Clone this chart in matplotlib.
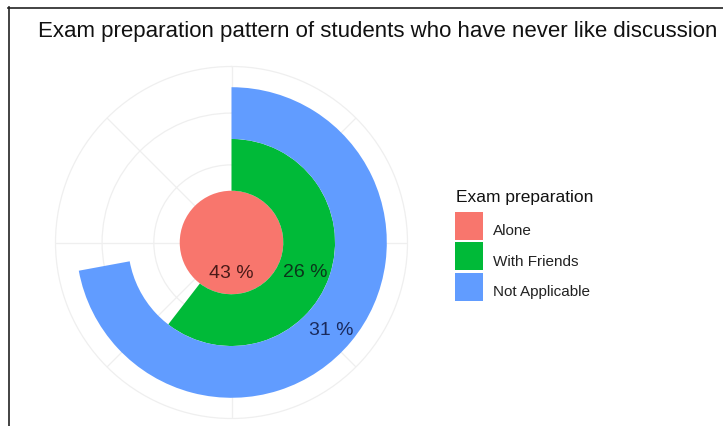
import numpy as np
import matplotlib
matplotlib.use("Agg")
import matplotlib.pyplot as plt
from matplotlib.patches import Rectangle
from matplotlib.lines import Line2D
from matplotlib.transforms import offset_copy

plt.rcParams['font.family'] = ['Liberation Sans', 'DejaVu Sans']

# Data
categories = ["Alone", "With Friends", "Not Applicable"]
percent = [43, 26, 31]
fill_colors = ["#F8766D", "#00BA38", "#619CFF"]
label_colors = ["#4a1a18", "#0a361a", "#1a2a5c"]
title = "Exam preparation pattern of students who have never like discussion"
legend_title = "Exam preparation"

W, H = 723, 427
fig = plt.figure(figsize=(W / 100, H / 100), dpi=100)
fig.patch.set_facecolor("white")


def fx(px):
    return px / W


def fy(py):
    return 1 - py / H


# Polar panel: centre (231.5, 243.5) px, outer radius 176 px
cx, cy, R = 231.5, 243.5, 176
ax = fig.add_axes([fx(cx - R), fy(cy + R), 2 * R / W, 2 * R / H], projection="polar")
ax.set_theta_zero_location("N")
ax.set_theta_direction(-1)

r_min, r_max = 0.5, 3.9
ax.set_ylim(r_min, r_max)

full = max(percent)
pos = np.arange(1, len(categories) + 1)
theta_end = [v / full * 2 * np.pi for v in percent]

ax.bar(0, height=np.ones(len(pos)), width=theta_end, bottom=pos - 0.5,
       align="edge", color=fill_colors, edgecolor="none", zorder=2)

# Value labels sit slightly below their anchor point
label_tr = offset_copy(ax.transData, fig=fig, x=0, y=-4, units="dots")
for p, v, c in zip(pos, percent, label_colors):
    ax.text(v / 2 / full * 2 * np.pi, p, f"{v} %", ha="center", va="center",
            fontsize=14, color=c, zorder=3, transform=label_tr)

grid_col = "#efefef"
ax.set_rticks(pos)
ax.set_yticklabels([])
ax.set_thetagrids(np.arange(0, 360, 45), labels=[])
ax.grid(True, color=grid_col, linewidth=0.9)
ax.spines["polar"].set_color(grid_col)
ax.spines["polar"].set_linewidth(0.9)
ax.tick_params(length=0)
ax.set_facecolor("white")

# Title
fig.text(fx(38), fy(37), title, fontsize=16, color="#111111",
         ha="left", va="baseline")

# Legend
fig.text(fx(456), fy(202), legend_title, fontsize=12.5, color="#111111",
         ha="left", va="baseline")
key_top = [213, 243, 273.5]
for top, name, col in zip(key_top, categories, fill_colors):
    fig.patches.append(Rectangle((fx(455), fy(top + 28)), 28 / W, 28 / H,
                                 transform=fig.transFigure, facecolor=col,
                                 edgecolor="none"))
    fig.text(fx(493), fy(top + 22.5), name, fontsize=11, color="#222222",
             ha="left", va="baseline")

# Frame lines along the top and left edges
fig.add_artist(Line2D([fx(8), 1], [fy(8.5), fy(8.5)], transform=fig.transFigure,
                      color="#222222", linewidth=1.2))
fig.add_artist(Line2D([fx(8.5), fx(8.5)], [fy(8), 0], transform=fig.transFigure,
                      color="#222222", linewidth=1.2))

fig.savefig("out.png", dpi=100, facecolor="white")
